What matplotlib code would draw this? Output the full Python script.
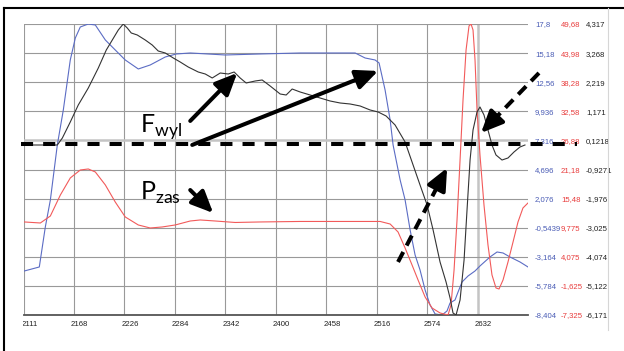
import numpy as np
import matplotlib
matplotlib.use('Agg')
import matplotlib.pyplot as plt
from matplotlib.lines import Line2D
from matplotlib.transforms import Bbox, TransformedBbox, ScaledTranslation

# time axis ticks (samples)
x_ticks = [2111, 2168, 2226, 2284, 2342, 2400, 2458, 2516, 2574, 2632]

# right-hand scales (comma decimals as shown in the reference)
blue_lim = (-8.404, 17.8)
red_lim = (-7.325, 49.68)
black_lim = (-6.171, 4.317)
blue_labels = ['-8,404', '-5,784', '-3,164', '-0,5439', '2,076', '4,696',
               '7,316', '9,936', '12,56', '15,18', '17,8']
red_labels = ['-7,325', '-1,625', '4,075', '9,775', '15,48', '21,18',
              '26,88', '32,58', '38,28', '43,98', '49,68']
black_labels = ['-6,171', '-5,122', '-4,074', '-3,025', '-1,976', '-0,9271',
                '0,1218', '1,171', '2,219', '3,268', '4,317']

# blue trace
blue_t = [2111, 2128.2, 2135.1, 2140.9, 2148.9, 2155.8, 2163.8, 2169.6, 2175.3,
          2184.5, 2192.6, 2204.1, 2215.5, 2227.0, 2242.0, 2255.7, 2273.0, 2285.6,
          2301.7, 2341.9, 2382.1, 2428.1, 2491.3, 2502.7, 2514.2, 2518.8, 2525.7,
          2531.5, 2534.9, 2543.0, 2548.7, 2554.5, 2560.2, 2565.9, 2571.7, 2577.4,
          2583.2, 2591.2, 2596.9, 2600.4, 2606.1, 2609.6, 2614.2, 2621.1, 2629.1,
          2634.8, 2646.3, 2654.4, 2661.3, 2669.3, 2680.8, 2690.0]
blue_v = [-4.44, -4.08, -0.48, 1.95, 6.91, 10.06, 14.56, 16.54, 17.53,
          17.8, 17.71, 16.36, 15.46, 14.56, 13.75, 14.11, 14.83, 15.10,
          15.19, 15.01, 15.10, 15.19, 15.19, 14.74, 14.56, 14.29, 11.86,
          9.16, 6.91, 3.76, 1.96, -0.75, -3.00, -4.35, -6.15, -7.50,
          -8.31, -8.40, -8.04, -7.32, -7.05, -6.33, -5.43, -4.89, -4.44,
          -3.99, -3.18, -2.73, -2.82, -3.18, -3.63, -4.08]

# red trace
red_t = [2111, 2129.4, 2140.9, 2152.4, 2163.8, 2175.3, 2184.5, 2192.6, 2204.1,
         2215.5, 2227.0, 2242.0, 2255.7, 2269.5, 2284.4, 2301.7, 2313.2, 2330.4,
         2353.4, 2382.1, 2428.1, 2520.0, 2531.5, 2540.6, 2548.7, 2556.7, 2563.6,
         2571.7, 2579.7, 2588.9, 2598.1, 2601.5, 2605.0, 2608.4, 2611.9, 2615.3,
         2618.8, 2622.2, 2624.5, 2626.8, 2629.1, 2631.4, 2634.8, 2639.4, 2644.0,
         2648.6, 2653.2, 2656.7, 2661.3, 2667.0, 2672.8, 2678.5, 2684.2, 2690.0]
red_v = [10.90, 10.70, 12.07, 16.18, 19.52, 21.08, 21.28, 20.69, 18.15,
         14.81, 11.88, 10.31, 9.72, 9.92, 10.31, 11.09, 11.29, 11.09,
         10.80, 10.90, 11.00, 11.00, 10.50, 8.94, 5.80, 2.47, -0.46,
         -3.79, -5.95, -6.93, -7.32, -5.36, 1.49, 11.29, 23.04, 34.79,
         44.59, 49.30, 49.68, 48.51, 42.63, 32.83, 24.02, 14.23, 6.39,
         0.52, -2.03, -2.23, -0.46, 3.06, 6.98, 10.90, 13.64, 14.62]

# black trace
black_t = [2111, 2148.9, 2154.7, 2163.8, 2173.0, 2184.5, 2196.0, 2205.2, 2212.1,
           2219.0, 2224.7, 2229.3, 2233.9, 2240.8, 2250.0, 2258.0, 2264.9, 2273.0,
           2282.2, 2290.2, 2299.4, 2310.9, 2319.0, 2327.0, 2336.2, 2345.4, 2352.2,
           2359.1, 2366.0, 2376.4, 2384.4, 2393.6, 2405.1, 2412.0, 2418.9, 2428.1,
           2439.6, 2451.0, 2462.5, 2474.0, 2485.5, 2497.0, 2508.5, 2517.7, 2526.9,
           2537.2, 2548.7, 2557.9, 2565.9, 2574.0, 2580.9, 2588.9, 2595.8, 2600.4,
           2603.8, 2607.3, 2611.9, 2616.5, 2619.9, 2623.4, 2626.8, 2631.4, 2634.8,
           2639.4, 2644.0, 2648.6, 2653.2, 2660.1, 2667.0, 2673.9, 2680.8, 2686.5]
black_v = [-0.044, -0.044, 0.208, 0.785, 1.398, 2.010, 2.731, 3.380, 3.740,
           4.101, 4.317, 4.173, 3.993, 3.921, 3.740, 3.560, 3.344, 3.272,
           3.092, 2.947, 2.767, 2.587, 2.515, 2.371, 2.551, 2.515, 2.587,
           2.371, 2.191, 2.263, 2.299, 2.082, 1.794, 1.758, 1.974, 1.866,
           1.758, 1.650, 1.542, 1.470, 1.434, 1.362, 1.218, 1.146, 1.001,
           0.677, 0.064, -0.765, -1.486, -2.206, -3.107, -4.261, -4.982, -5.558,
           -6.099, -6.171, -5.630, -4.189, -2.387, -0.585, 0.497, 1.146, 1.326,
           1.038, 0.497, -0.044, -0.404, -0.585, -0.512, -0.296, -0.116, -0.044]

BLUE = '#5b6cc4'
RED = '#f25a5a'
BLACK = '#333333'
TICK_FONT = ['Liberation Sans Narrow', 'Liberation Sans', 'DejaVu Sans']
TICK_SIZE = 5.6

fig = plt.figure(figsize=(6.24, 3.51), dpi=100)
ax = fig.add_axes([24 / 624, 1 - 315 / 351, 504 / 624, 291 / 351])
ax_red = ax.twinx()
ax_blk = ax.twinx()

ax.set_xlim(2110.6, 2690)
ax.set_ylim(*blue_lim)
ax_red.set_ylim(*red_lim)
ax_blk.set_ylim(*black_lim)

# grid + ticks
ax.set_xticks(x_ticks)
ax.set_xticklabels([str(t) for t in x_ticks], family=TICK_FONT, fontsize=TICK_SIZE,
                   ha='left', fontstretch='condensed')
ax.tick_params(axis='x', length=0, pad=4, colors='#222222')
for a, labels, col, pad in [(ax, blue_labels, '#4a5cb5', 5),
                            (ax_red, red_labels, '#e83c3c', 23.8),
                            (ax_blk, black_labels, '#222222', 41.8)]:
    a.yaxis.tick_right()
    a.set_yticks(np.linspace(a.get_ylim()[0], a.get_ylim()[1], 11))
    a.set_yticklabels(labels, family=TICK_FONT, fontsize=TICK_SIZE, color=col,
                      ha='left', fontstretch='condensed')
    a.tick_params(axis='y', length=0, pad=pad)
    for s in a.spines.values():
        s.set_visible(False)
ax.spines['bottom'].set_visible(True)
ax.spines['bottom'].set_color('#555555')
ax.spines['bottom'].set_linewidth(1.3)
ax.grid(True, color='#999999', lw=0.8)
ax.set_axisbelow(True)
# cursor lines of the recorder (lighter, wider)
ax.get_xgridlines()[9].set(color='#c4c4c4', lw=1.8)
ax.get_ygridlines()[6].set(color='#c4c4c4', lw=1.8)

# x tick labels start a little left of their gridline; the first one is cut by the frame
for lbl in ax.get_xticklabels():
    lbl.set_transform(lbl.get_transform() + ScaledTranslation(-3 / 100, 0, fig.dpi_scale_trans))
first = ax.get_xticklabels()[0]
first.set_clip_on(True)
first.set_clip_box(TransformedBbox(Bbox([[23 / 624, 0], [1, 1]]), fig.transFigure))

ax.plot(blue_t, blue_v, color=BLUE, lw=0.8)
ax_red.plot(red_t, red_v, color=RED, lw=0.8)
ax_blk.plot(black_t, black_v, color=BLACK, lw=0.8)

# overlay annotations (placed on the blue scale)
ann_ax = fig.add_axes(ax.get_position(), sharex=ax, frameon=False)
ann_ax.set_ylim(*blue_lim)
ann_ax.axis('off')

ann_ax.plot([2107.6, 2746.3], [7.0, 7.0], color='black', lw=2.9,
            dashes=(3, 2.5), clip_on=False, solid_capstyle='butt')

head = dict(arrowstyle='-|>,head_length=0.6,head_width=0.27', color='black',
            lw=2.9, shrinkA=0, shrinkB=0, mutation_scale=22)

def solid_arrow(tail, tip):
    ann_ax.annotate('', xy=tip, xytext=tail, arrowprops=head, annotation_clip=False)

def dashed_arrow(tail, tip):
    f = 0.82
    mid = (tail[0] + f * (tip[0] - tail[0]), tail[1] + f * (tip[1] - tail[1]))
    ann_ax.plot([tail[0], mid[0]], [tail[1], mid[1]], color='black', lw=2.9,
                dashes=(2.8, 1.8), clip_on=False, dash_capstyle='butt')
    ann_ax.annotate('', xy=tip, xytext=mid, arrowprops=head, annotation_clip=False)

solid_arrow((2301.7, 9.07), (2355.7, 13.39))
solid_arrow((2304.0, 6.91), (2517.7, 13.57))
solid_arrow((2301.7, 2.85), (2328.1, 0.78))
dashed_arrow((2540.6, -3.63), (2597.0, 4.84))
dashed_arrow((2702.6, 13.39), (2636.0, 7.99))

ann_ax.text(2244.3, 7.99, r'F$_{\mathregular{wyl}}$', family='Lato', fontsize=18,
            va='baseline', ha='left')
ann_ax.text(2244.3, 1.95, r'P$_{\mathregular{zas}}$', family='Lato', fontsize=18,
            va='baseline', ha='left')

# screenshot frame
fig.add_artist(Line2D([4 / 624, 4 / 624], [0, 1 - 8 / 351], transform=fig.transFigure,
                      color='black', lw=1.5))
fig.add_artist(Line2D([4 / 624, 1], [1 - 8 / 351, 1 - 8 / 351], transform=fig.transFigure,
                      color='black', lw=1.5))
fig.add_artist(Line2D([608 / 624, 608 / 624], [1 - 330 / 351, 1 - 8 / 351],
                      transform=fig.transFigure, color='#d6d6d6', lw=0.8))

fig.savefig('out.png', dpi=100)
